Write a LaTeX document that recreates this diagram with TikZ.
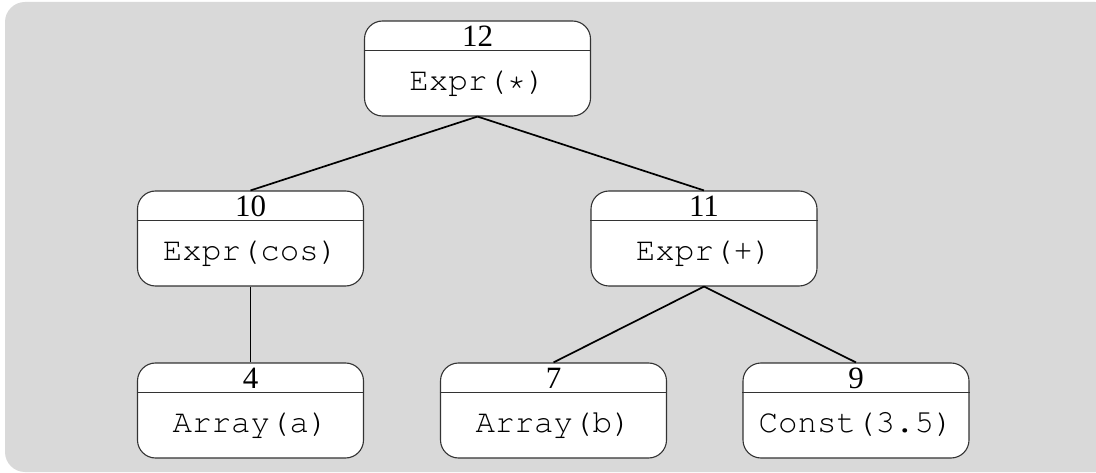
\documentclass[tikz,border=0pt]{standalone}
\usepackage[T1,TU]{fontenc}
\usepackage{fontspec}
\newfontfamily\numfont{Liberation Serif}
% Courier (Type 1, T1 encoding) for the expressions
\newcommand{\codefont}{\fontencoding{T1}\fontfamily{pcr}\fontseries{m}\fontshape{n}}
\definecolor{panel}{HTML}{D9D9D9}
\definecolor{boxline}{HTML}{333333}
\tikzset{
  treebox/.style={draw=boxline, line width=1.1pt, fill=white, rounded corners=18pt,
    minimum width=226pt, minimum height=95pt, inner sep=0pt},
  numlabel/.style={anchor=base, inner sep=0pt, font=\numfont\fontsize{31}{36}\selectfont},
  codelabel/.style={anchor=base, inner sep=0pt, font=\codefont\fontsize{32.5}{38}\selectfont},
  treeedge/.style={line width=1.7pt, black},
}
% one tree node: name, centre x, top y, number, expression
\newcommand{\treenode}[5]{%
  \node[treebox] (#1) at (#2,-#3-47.5) {};
  \draw[boxline, line width=1.1pt] ([yshift=-30pt]#1.north west) -- ([yshift=-30pt]#1.north east);
  \node[numlabel] (#1-num) at ([yshift=-26pt]#1.north) {#4};
  \node[codelabel] (#1-code) at ([yshift=-70.5pt]#1.north) {#5};
}
\begin{document}
\begin{tikzpicture}[x=1pt,y=1pt]
  \useasboundingbox (0,0) rectangle (1096,-473);
  \begin{scope}
    \clip (0,0) rectangle (1096,-473);
    \fill[panel, rounded corners=20pt] (5,-2) rectangle (1115,-472);
  \end{scope}

  \treenode{n12}{477.5}{21}{12}{Expr(*)}
  \treenode{n10}{250.5}{191}{10}{Expr(cos)}
  \treenode{n11}{704}{191}{11}{Expr(+)}
  \treenode{n4}{250.5}{363}{4}{Array(a)}
  \treenode{n7}{553.5}{363}{7}{Array(b)}
  \treenode{n9}{856}{363}{9}{Const(3.5)}

  \draw[treeedge] (n12.south) -- (n10.north);
  \draw[treeedge] (n12.south) -- (n11.north);
  \draw[treeedge] (n10.south) -- (n4.north);
  \draw[treeedge] (n11.south) -- (n7.north);
  \draw[treeedge] (n11.south) -- (n9.north);
\end{tikzpicture}
\end{document}
